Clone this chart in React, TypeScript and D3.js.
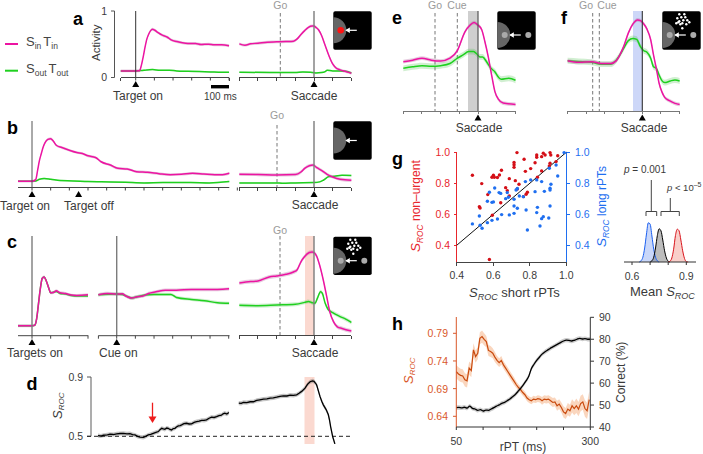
import React from "react";
import * as d3 from "d3";

type P = [number, number];
const PINK = "#ec14a2", GREEN = "#1fd01f", PINKBAND = "rgba(176,96,156,0.32)", GREENBAND = "rgba(70,190,70,0.25)";
const INK = "#3a3a3a", FONT = "'Liberation Sans', Arial, sans-serif";
const RED = "#e8262c", BLUE = "#1f6ff0", ORANGE = "#d9582a";

// a
const aLeftPink: P[] = [[-80,.10],[-40,.10],[0,.10],[20,.102],[30,.18],[40,.31],[50,.46],[60,.585],[70,.66],[80,.71],[90,.73],[100,.72],[120,.68],[140,.645],[170,.61],[190,.57],[220,.545],[250,.525],[280,.515],[320,.515],[350,.50],[390,.505],[420,.495],[460,.495],[500,.48]];
const aLeftGreen: P[] = [[-80,.10],[0,.10],[30,.105],[60,.115],[90,.12],[130,.11],[180,.11],[220,.10],[280,.095],[340,.09],[400,.085],[460,.08],[500,.08]];
const aRightPink: P[] = [[-400,.51],[-370,.49],[-340,.51],[-300,.52],[-250,.535],[-200,.54],[-150,.545],[-110,.55],[-90,.585],[-70,.65],[-50,.71],[-30,.76],[-10,.78],[0,.78],[10,.76],[25,.72],[40,.64],[60,.485],[80,.33],[100,.205],[120,.14],[140,.115],[170,.09],[200,.065]];
const aRightGreen: P[] = [[-400,.08],[-200,.075],[-100,.075],[-60,.085],[-20,.08],[10,.07],[40,.075],[60,.09],[70,.11],[100,.10],[140,.10],[170,.095],[200,.07]];
// b
const bLeftPink: P[] = [[-75,.095],[0,.095],[20,.12],[30,.26],[40,.41],[50,.515],[60,.615],[70,.68],[85,.73],[100,.74],[115,.70],[130,.64],[160,.605],[200,.565],[240,.53],[270,.515],[300,.48],[340,.455],[370,.39],[420,.34],[460,.29],[510,.28],[560,.24],[620,.23],[680,.21],[740,.195],[800,.20],[860,.215],[920,.205],[980,.195],[1020,.195],[1057,.215]];
const bLeftGreen: P[] = [[-75,.095],[0,.095],[20,.10],[40,.125],[65,.135],[100,.125],[150,.105],[220,.10],[300,.09],[420,.085],[500,.08],[600,.07],[700,.075],[850,.075],[950,.07],[1057,.09]];
const bRightPink: P[] = [[-400,.20],[-300,.197],[-200,.19],[-100,.197],[-70,.235],[-50,.29],[-25,.33],[-5,.34],[15,.30],[40,.26],[70,.20],[100,.16],[140,.125],[200,.11]];
const bRightGreen: P[] = [[-400,.07],[-200,.07],[-170,.065],[-100,.07],[0,.075],[30,.085],[50,.11],[80,.165],[110,.17],[150,.185],[200,.18]];
// c
const cLeftPink: P[] = [[-75,.15],[0,.15],[15,.16],[25,.26],[35,.49],[45,.72],[55,.87],[65,.89],[75,.84],[90,.72],[100,.65],[115,.655],[130,.68],[150,.65],[180,.64],[210,.615],[240,.61],[300,.62]];
const cLeftGreen: P[] = [[-75,.15],[0,.15],[15,.16],[25,.26],[35,.49],[45,.72],[55,.87],[65,.89],[75,.84],[90,.72],[100,.65],[130,.67],[150,.64],[180,.63],[210,.61],[240,.60],[300,.60]];
const cMidPink: P[] = [[-98,.62],[-50,.64],[0,.63],[30,.635],[50,.60],[80,.57],[110,.59],[140,.60],[170,.64],[210,.665],[260,.69],[320,.69],[400,.70],[470,.70],[540,.70],[602,.71]];
const cMidGreen: P[] = [[-98,.62],[0,.63],[30,.625],[60,.59],[80,.57],[110,.59],[150,.615],[200,.625],[290,.625],[320,.58],[400,.55],[470,.53],[540,.50],[602,.49]];
const cRightPink: P[] = [[-400,.80],[-340,.82],[-300,.83],[-240,.89],[-200,.905],[-150,.93],[-110,.965],[-90,1.0],[-70,1.12],[-50,1.2],[-25,1.26],[-10,1.27],[0,1.26],[15,1.2],[30,1.07],[50,.84],[70,.565],[85,.36],[105,.21],[125,.135],[150,.11],[200,.07]];
const cRightGreen: P[] = [[-400,.46],[-300,.455],[-200,.465],[-100,.475],[-50,.505],[-30,.52],[-10,.50],[5,.49],[20,.58],[35,.667],[45,.64],[60,.49],[75,.40],[100,.35],[140,.29],[170,.25],[200,.20]];
// d
const dLeft: P[] = [[-100,.505],[-85,.502],[-71,.507],[-50,.510],[-36,.514],[-18,.512],[0,.516],[18,.519],[36,.520],[55,.516],[71,.518],[85,.512],[98,.509],[112,.500],[125,.495],[143,.493],[155,.500],[169,.509],[182,.513],[196,.520],[210,.527],[223,.532],[232,.545],[241,.554],[250,.550],[258,.547],[268,.556],[276,.554],[285,.546],[294,.543],[303,.552],[312,.554],[320,.563],[330,.570],[340,.572],[348,.577],[360,.585],[374,.588],[388,.583],[401,.584],[415,.594],[428,.599],[442,.602],[455,.608],[468,.607],[481,.611],[495,.622],[508,.629],[522,.627],[535,.633],[548,.640],[561,.642],[570,.652],[579,.656],[590,.650],[601,.660]];
const dRight: P[] = [[-403,.724],[-390,.722],[-378,.729],[-360,.727],[-342,.733],[-325,.733],[-307,.742],[-290,.746],[-271,.751],[-252,.752],[-235,.758],[-218,.759],[-200,.764],[-182,.770],[-164,.773],[-145,.772],[-128,.778],[-110,.776],[-93,.78],[-80,.790],[-66,.803],[-48,.825],[-35,.850],[-21,.868],[-8,.874],[0,.871],[14,.848],[32,.769],[42,.735],[50,.712],[65,.680],[77,.645],[83,.610],[89,.566],[100,.498],[112,.449]];
// e, f
const ePink: P[] = [[-400,.747],[-350,.77],[-300,.80],[-250,.77],[-200,.757],[-150,.80],[-110,.92],[-70,1.2],[-43,1.30],[-21,1.34],[0,1.30],[20,1.23],[37,1.05],[55,.82],[73,.545],[91,.29],[109,.18],[135,.12],[201,.10]];
const eGreen: P[] = [[-400,.646],[-350,.67],[-300,.687],[-250,.677],[-200,.687],[-150,.72],[-110,.80],[-80,.85],[-50,.90],[-25,.90],[-10,.875],[10,.82],[25,.82],[45,.75],[70,.646],[90,.595],[110,.51],[125,.48],[165,.495],[201,.465]];
const fPink: P[] = [[-400,.76],[-340,.737],[-270,.747],[-220,.72],[-170,.72],[-140,.76],[-120,.85],[-100,.975],[-75,1.18],[-50,1.32],[-25,1.38],[-10,1.37],[5,1.33],[25,1.24],[45,1.08],[60,.85],[75,.646],[90,.42],[105,.29],[120,.207],[145,.157],[175,.116],[200,.10]];
const fGreen: P[] = [[-400,.76],[-340,.75],[-270,.737],[-220,.71],[-170,.71],[-140,.77],[-120,.85],[-100,.95],[-75,1.066],[-50,1.10],[-30,1.086],[-10,.975],[5,.92],[25,.89],[45,.80],[60,.67],[75,.646],[90,.545],[105,.46],[120,.43],[150,.455],[175,.47],[200,.455]];
// g
const gRed: P[] = [[.486,.852],[.537,.798],[.570,.727],[.524,.649],[.528,.641],[.595,.594],[.579,.308],[.593,.839],[.601,.852],[.606,.839],[.623,.837],[.634,.854],[.645,.884],[.668,.772],[.677,.753],[.688,.830],[.688,.718],[.641,.675],[.714,.935],[.714,.920],[.714,.903],[.721,.817],[.730,.998],[.741,.794],[.732,.763],[.769,.955],[.776,.877],[.805,.895],[.787,.742],[.780,.729],[.829,.933],[.838,.983],[.838,.968],[.842,.839],[.865,.972],[.865,.880],[.874,.994],[.884,.983],[.911,.998],[.915,.983],[.907,.912],[.911,.929],[.944,.940],[.953,.978],[.765,.714]];
const gBlue: P[] = [[.486,.538],[.524,.589],[.528,.529],[.539,.510],[.568,.546],[.568,.684],[.579,.742],[.593,.677],[.601,.680],[.593,.561],[.608,.770],[.623,.570],[.632,.740],[.641,.735],[.646,.598],[.668,.701],[.677,.740],[.683,.710],[.688,.596],[.714,.606],[.714,.697],[.714,.654],[.732,.639],[.732,.766],[.725,.757],[.743,.718],[.765,.714],[.776,.811],[.780,.628],[.787,.499],[.805,.822],[.829,.746],[.838,.822],[.842,.645],[.838,.611],[.856,.525],[.865,.572],[.874,.585],[.865,.811],[.880,.748],[.904,.576],[.911,.654],[.911,.757],[.911,.768],[.916,.794],[.907,.897],[.944,.918],[.953,.847],[.988,.998]];
const gTicks = [0.4, 0.6, 0.8, 1.0];
const histBlue: P[] = [[.64,0],[.65,.03],[.66,.12],[.67,.35],[.68,.70],[.69,.98],[.70,.95],[.71,.65],[.72,.32],[.73,.12],[.74,.03],[.75,0]];
const histBlack: P[] = [[.70,0],[.71,.03],[.72,.12],[.73,.35],[.74,.66],[.75,.83],[.76,.78],[.77,.55],[.78,.28],[.79,.10],[.80,.02],[.81,0]];
const histRed: P[] = [[.80,0],[.81,.02],[.82,.10],[.83,.32],[.84,.66],[.85,.82],[.86,.78],[.87,.55],[.88,.28],[.89,.09],[.90,.01],[.91,0]];
const histTicks = [0.6, 0.7, 0.8, 0.9];
// h
const hRpt = d3.range(50, 302, 4);
const hRoc = [.7207,.7165,.714,.713,.706,.704,.727,.7225,.760,.748,.754,.781,.784,.779,.775,.759,.757,.754,.747,.741,.737,.741,.733,.727,.721,.715,.709,.703,.697,.692,.688,.683,.679,.673,.670,.668,.671,.670,.672,.671,.668,.671,.670,.671,.668,.665,.666,.659,.662,.656,.648,.645,.653,.650,.659,.654,.659,.653,.663,.666,.654,.650,.670];
const hRocErr = [.012,.012,.012,.012,.012,.012,.012,.012,.012,.011,.011,.011,.011,.011,.010,.010,.010,.009,.009,.008,.008,.008,.007,.007,.007,.007,.007,.007,.006,.006,.006,.006,.006,.006,.006,.006,.006,.006,.006,.006,.007,.007,.007,.007,.008,.008,.008,.009,.009,.009,.010,.010,.011,.011,.012,.012,.013,.013,.014,.014,.015,.015,.015];
const hCorrect: P[] = [[50,48.8],[55,48.9],[60,48.7],[65,49],[70,48.6],[75,49.5],[80,48.5],[85,48.2],[90,47.6],[95,47.9],[100,47.3],[105,47.7],[110,47.6],[115,48.2],[120,48.8],[125,49.5],[130,50.1],[135,50.8],[140,51.2],[145,52],[150,52.8],[155,53.8],[160,54.8],[165,56.2],[170,57.6],[175,59.2],[180,61],[185,63],[190,66.6],[195,68.6],[200,70.4],[205,71.8],[210,73.2],[215,74.2],[220,75],[225,75.8],[230,76.5],[235,77.2],[240,77.9],[245,78.6],[250,79.2],[255,79.6],[260,79.5],[265,79.2],[270,79.5],[275,80],[280,80.4],[285,80.1],[290,80.3],[295,80],[300,80]];
const hRocTicks = [0.79, 0.74, 0.69, 0.64];
const hCorrectTicks = [40, 50, 60, 70, 80, 90];
const hRptTicks = [50, 100, 150, 200, 250, 300];
const hRptLabels = [50, 300];

const PX_MS = 0.18667;
const yActivity = (base: number) => d3.scaleLinear().domain([0, 1]).range([base, base - 66]);
const xTime = (zeroPx: number) => d3.scaleLinear().domain([0, 100]).range([zeroPx, zeroPx + 100 * PX_MS]);
const linePath = (pts: P[], x: any, y: any) => d3.line<P>().x(d => x(d[0])).y(d => y(d[1])).curve(d3.curveMonotoneX)(pts) || "";
const bandPath = (pts: P[], err: number, x: any, y: any) => d3.area<P>().x(d => x(d[0])).y0(d => y(d[1] - err)).y1(d => y(d[1] + err)).curve(d3.curveMonotoneX)(pts) || "";

const T = ({ x, y, s = 12, fill = INK, anchor = "start", children, rot, italic, bold }: any) => (
  <text x={x} y={y} fontSize={s} fill={fill} textAnchor={anchor} fontFamily={FONT} fontStyle={italic ? "italic" : "normal"} fontWeight={bold ? 700 : 400}
    transform={rot ? `rotate(${rot} ${x} ${y})` : undefined}>{children}</text>
);
const Letter = ({ x, y, c }: any) => <T x={x} y={y} s={18} fill="#000" bold>{c}</T>;

const Trace = ({ pts, x, y, color, band, err }: any) => (
  <g>
    <path d={bandPath(pts, err, x, y)} fill={band} />
    <path d={linePath(pts, x, y)} fill="none" stroke={color} strokeWidth={1.5} strokeLinejoin="round" />
  </g>
);
const TimeAxis = ({ x, y, from, to, step = 100, stroke = "#444", grey }: any) => {
  const ticks: number[] = [];
  for (let t = from; t <= to + 1; t += step) ticks.push(t);
  return (
    <g stroke={grey ? "#777" : stroke} strokeWidth={1} shapeRendering="crispEdges">
      <line x1={x(from)} x2={x(to)} y1={y} y2={y} />
      {ticks.map(t => <line key={t} x1={x(t)} x2={x(t)} y1={y} y2={y + 3} />)}
    </g>
  );
};
const Tri = ({ x, y }: any) => <path d={`M${x - 3.5},${y + 6} L${x + 3.5},${y + 6} L${x},${y} Z`} fill="#000" />;
const VLine = ({ x, y1, y2, c = "#7c7c7c", w = 1.4 }: any) => <line x1={x} x2={x} y1={y1} y2={y2} stroke={c} strokeWidth={w} />;
const Dash = ({ x, y1, y2 }: any) => <line x1={x} x2={x} y1={y1} y2={y2} stroke="#777" strokeWidth={1} strokeDasharray="3.5 2.5" />;
const Grey = ({ x, y, children }: any) => <T x={x} y={y} s={10.5} fill="#9a9a9a" anchor="middle">{children}</T>;

const starOffsets: [number, number][] = [[17,3],[22,3],[19,6],[25,9],[14,12],[17,10],[21,9],[18,13],[24,13],[16,11],[20,17],[23,6],[27,11],[20,12],[15,7]];
const Inset = ({ x, y, cy, dot, targets, stars, clip }: any) => (
  <g>
    <clipPath id={clip}><rect x={x} y={y} width={38.4} height={38.4} rx={1.8} /></clipPath>
    <rect x={x} y={y} width={38.4} height={38.4} rx={1.8} fill="#000" />
    <circle cx={x} cy={cy} r={13} fill="#666" clipPath={`url(#${clip})`} />
    {targets && <circle cx={x + 7.4} cy={cy} r={3} fill="#aaa" />}
    {targets && <circle cx={x + 31} cy={cy} r={3} fill="#aaa" />}
    {dot && <circle cx={x + 7.4} cy={cy} r={3.3} fill="#ff1414" />}
    {stars && starOffsets.map((o, i) => <circle key={i} cx={x + o[0]} cy={y + o[1]} r={1.2} fill="#fff" />)}
    <line x1={x + 23.5} x2={x + 13} y1={cy} y2={cy} stroke="#fff" strokeWidth={1.2} />
    <path d={`M${x + 12},${cy} L${x + 16.5},${cy - 2.8} L${x + 16.5},${cy + 2.8} Z`} fill="#fff" />
  </g>
);
const Sroc = ({ x, y, fill, s = 13 }: any) => (
  <text transform={`rotate(-90 ${x} ${y})`} x={x} y={y} fill={fill} fontFamily={FONT} fontSize={s} fontStyle="italic">S<tspan fontSize={s * 0.62} dy={2.5}>ROC</tspan></text>
);
const SubLabel = ({ x, y, a, b, fill }: any) => (
  <text x={x} y={y} fill={fill} fontFamily={FONT} fontSize={13}>S<tspan fontSize={8.5} dy={3}>{a}</tspan><tspan dx={2} dy={-3}>T</tspan><tspan fontSize={8.5} dy={3}>{b}</tspan></text>
);

export default function App() {
  const xL = xTime(135.7), xR = xTime(314), xB = xTime(32), xCm = xTime(116.7);
  const ya = yActivity(77.5), yb = yActivity(187.5), yc = yActivity(335.7), ye = yActivity(111);
  const xE = xTime(478), xF = xTime(642.3);

  const yd = d3.scaleLinear().domain([0.5, 0.9]).range([436.3, 377]);
  const clipD = "dclip";

  const xG = d3.scaleLinear().domain([0.4, 1]).range([456.7, 566.3]);
  const yG = d3.scaleLinear().domain([0.4, 1]).range([245.3, 152.3]);

  const xH = d3.scaleLinear().domain([0.6, 0.9]).range([632, 686.3]);
  const yH = d3.scaleLinear().domain([0, 1]).range([262, 222]);
  const histLine = d3.line<P>().x(d => xH(d[0])).y(d => yH(d[1])).curve(d3.curveMonotoneX);
  const histArea = d3.area<P>().x(d => xH(d[0])).y0(yH(0)).y1(d => yH(d[1])).curve(d3.curveMonotoneX);

  const xR2 = d3.scaleLinear().domain([50, 300]).range([456.3, 590.3]);
  const yRoc = d3.scaleLinear().domain([0.64, 0.79]).range([416.3, 333.3]);
  const yCor = d3.scaleLinear().domain([40, 90]).range([427, 317.3]);
  const rocPts: P[] = hRpt.map((r, i) => [r, hRoc[i]]);
  const rocBand = d3.area<number>().x((_, i) => xR2(hRpt[i])).y0((d, i) => yRoc(d - hRocErr[i])).y1((d, i) => yRoc(d + hRocErr[i]));
  const rocLine = d3.line<P>().x(d => xR2(d[0])).y(d => yRoc(d[1]));
  const corLine = d3.line<P>().x(d => xR2(d[0])).y(d => yCor(d[1])).curve(d3.curveMonotoneX);
  const corBand = d3.area<P>().x(d => xR2(d[0])).y0(d => yCor(d[1] - 1)).y1(d => yCor(d[1] + 1)).curve(d3.curveMonotoneX);

  return (
    <svg width={703} height={454} viewBox="0 0 703 454" style={{ position: "absolute", left: 0, top: 0, display: "block", background: "#fff" }}>
      {/* legend */}
      <line x1={5} x2={18} y1={44} y2={44} stroke={PINK} strokeWidth={2} />
      <SubLabel x={26} y={46} a="in" b="in" fill="#444" />
      <line x1={5} x2={18} y1={70.7} y2={70.7} stroke={GREEN} strokeWidth={2} />
      <SubLabel x={26} y={73} a="out" b="out" fill="#444" />

      {/* a */}
      <Letter x={73} y={25} c="a" />
      <line x1={114.5} x2={114.5} y1={11} y2={77.5} stroke="#555" />
      <line x1={111} x2={114.5} y1={11} y2={11} stroke="#555" />
      <line x1={111} x2={114.5} y1={77.5} y2={77.5} stroke="#555" />
      <T x={107} y={15} s={10.5} anchor="end">1</T>
      <T x={107} y={81} s={10.5} anchor="end">0</T>
      <T x={100} y={61} s={11.5} rot={-90}>Activity</T>
      <Trace pts={aLeftGreen} x={xL} y={ya} color={GREEN} band={GREENBAND} err={0.012} />
      <Trace pts={aLeftPink} x={xL} y={ya} color={PINK} band={PINKBAND} err={0.022} />
      <VLine x={135.7} y1={11} y2={77.5} c="#333" w={1} />
      <TimeAxis x={xL} y={77.5} from={-80} to={500} step={580} />
      {[0, 100, 200, 300, 400, 500].map(t => <line key={t} x1={xL(t)} x2={xL(t)} y1={77.5} y2={80.5} stroke="#444" />)}
      <Tri x={135.7} y={81} />
      <T x={113} y={100} s={12}>Target on</T>
      <rect x={211} y={85} width={18} height={3.4} fill="#000" />
      <T x={204} y={100} s={10}>100 ms</T>

      <Dash x={280.3} y1={13} y2={77.5} />
      <Grey x={280.3} y={9}>Go</Grey>
      <Trace pts={aRightGreen} x={xR} y={ya} color={GREEN} band={GREENBAND} err={0.012} />
      <Trace pts={aRightPink} x={xR} y={ya} color={PINK} band={PINKBAND} err={0.022} />
      <VLine x={314} y1={11} y2={77.5} />
      <TimeAxis x={xR} y={77.5} from={-400} to={200} />
      <Tri x={314} y={81} />
      <T x={314} y={100} anchor="middle">Saccade</T>
      <Inset x={333.3} y={11.3} cy={30.3} dot clip="ia" />

      {/* b */}
      <Letter x={7} y={134} c="b" />
      <Trace pts={bLeftGreen} x={xB} y={yb} color={GREEN} band={GREENBAND} err={0.012} />
      <Trace pts={bLeftPink} x={xB} y={yb} color={PINK} band={PINKBAND} err={0.02} />
      <VLine x={32} y1={121} y2={187.5} c="#555" w={1} />
      <line x1={18} x2={229.3} y1={187.5} y2={187.5} stroke="#444" />
      {d3.range(0, 1101, 100).map(t => <line key={t} x1={xB(t)} x2={xB(t)} y1={187.5} y2={190.5} stroke="#444" />)}
      <Tri x={32} y={191} /><Tri x={78.6} y={191} />
      <T x={0} y={210} s={12}>Target on</T>
      <T x={64} y={210} s={12}>Target off</T>
      <Dash x={277} y1={125} y2={187.5} />
      <Grey x={277} y={119}>Go</Grey>
      <Trace pts={bRightGreen} x={xR} y={yb} color={GREEN} band={GREENBAND} err={0.012} />
      <Trace pts={bRightPink} x={xR} y={yb} color={PINK} band={PINKBAND} err={0.025} />
      <VLine x={314} y1={121} y2={187.5} />
      <TimeAxis x={xR} y={187.5} from={-400} to={200} />
      <Tri x={314} y={191} />
      <T x={315} y={209} anchor="middle">Saccade</T>
      <Inset x={333.3} y={121.3} cy={140.5} clip="ib" />

      {/* c */}
      <Letter x={7} y={248} c="c" />
      <rect x={305} y={236} width={9} height={99.7} fill="#fbd9d0" />
      <Trace pts={cLeftGreen} x={xB} y={yc} color={GREEN} band={GREENBAND} err={0.02} />
      <Trace pts={cLeftPink} x={xB} y={yc} color={PINK} band={PINKBAND} err={0.022} />
      <VLine x={32} y1={236} y2={335.7} />
      <line x1={18} x2={88.3} y1={335.7} y2={335.7} stroke="#444" />
      {[0, 100, 200, 300].map(t => <line key={t} x1={xB(t)} x2={xB(t)} y1={335.7} y2={338.7} stroke="#444" />)}
      <Tri x={32} y={339} />
      <T x={7} y={357} s={12}>Targets on</T>
      <Trace pts={cMidGreen} x={xCm} y={yc} color={GREEN} band={GREENBAND} err={0.025} />
      <Trace pts={cMidPink} x={xCm} y={yc} color={PINK} band={PINKBAND} err={0.025} />
      <VLine x={116.7} y1={236} y2={335.7} />
      <line x1={98.3} x2={229.5} y1={335.7} y2={335.7} stroke="#444" />
      {[-98, 0, 100, 200, 300, 400, 500, 600].map(t => <line key={t} x1={xCm(t)} x2={xCm(t)} y1={335.7} y2={338.7} stroke="#444" />)}
      <Tri x={116.7} y={339} />
      <T x={99} y={357} s={12}>Cue on</T>
      <Dash x={280} y1={236} y2={335.7} />
      <Grey x={280} y={234}>Go</Grey>
      <Trace pts={cRightGreen} x={xR} y={yc} color={GREEN} band={GREENBAND} err={0.03} />
      <Trace pts={cRightPink} x={xR} y={yc} color={PINK} band={PINKBAND} err={0.03} />
      <VLine x={314} y1={236} y2={335.7} />
      <TimeAxis x={xR} y={335.7} from={-400} to={200} />
      <Tri x={314} y={339} />
      <T x={315} y={357} anchor="middle">Saccade</T>
      <Inset x={333.3} y={236.7} cy={260.7} targets stars clip="ic" />

      {/* d */}
      <Letter x={26.5} y={390} c="d" />
      <rect x={304.5} y={377} width={10} height={67} fill="#fbd9d0" />
      <line x1={91} x2={91} y1={377} y2={436.3} stroke="#8a8a8a" strokeWidth={1.4} />
      <line x1={87} x2={91} y1={377} y2={377} stroke="#555" />
      <line x1={87} x2={91} y1={436.3} y2={436.3} stroke="#555" />
      <line x1={87} x2={350} y1={436.3} y2={436.3} stroke="#222" strokeWidth={1} strokeDasharray="4 3" />
      <T x={83} y={381} s={10.5} anchor="end">0.9</T>
      <T x={83} y={440} s={10.5} anchor="end">0.5</T>
      <Sroc x={61.5} y={419} fill={INK} s={13} />
      <clipPath id={clipD}><rect x={90} y={370} width={262} height={74} /></clipPath>
      <g clipPath={`url(#${clipD})`}>
        {[{ p: dLeft, x: xCm }, { p: dRight, x: xR }].map((o, i) => (
          <g key={i}>
            <path d={d3.area<P>().x(d => o.x(d[0])).y0(d => yd(d[1] - 0.014)).y1(d => yd(d[1] + 0.014))(o.p) || ""} fill="rgba(90,90,90,0.35)" />
            <path d={d3.line<P>().x(d => o.x(d[0])).y(d => yd(d[1]))(o.p) || ""} fill="none" stroke="#000" strokeWidth={1.3} />
          </g>
        ))}
      </g>
      <line x1={152.5} x2={152.5} y1={402.7} y2={418} stroke="#ee1c1c" strokeWidth={1.3} />
      <path d="M148.5,416.5 L156.5,416.5 L152.5,423 Z" fill="#ee1c1c" />

      {/* e */}
      <Letter x={392} y={24} c="e" />
      <rect x={468} y={11} width={10} height={100} fill="#cfcfcf" />
      <Dash x={435} y1={13} y2={111} />
      <Dash x={457.3} y1={13} y2={111} />
      <Grey x={435} y={9}>Go</Grey>
      <Grey x={457} y={9}>Cue</Grey>
      <Trace pts={eGreen} x={xE} y={ye} color={GREEN} band={GREENBAND} err={0.045} />
      <Trace pts={ePink} x={xE} y={ye} color={PINK} band={PINKBAND} err={0.028} />
      <VLine x={478} y1={11} y2={111} c="#555" w={1.2} />
      <TimeAxis x={xE} y={111} from={-400} to={200} grey />
      <Tri x={478} y={114.5} />
      <T x={479} y={132} anchor="middle">Saccade</T>
      <Inset x={497.3} y={11.3} cy={35} targets clip="ie" />

      {/* f */}
      <Letter x={561} y={24} c="f" />
      <rect x={633} y={11} width={9.3} height={100} fill="#cdd7f8" />
      <Dash x={592.7} y1={13} y2={111} />
      <Dash x={599.3} y1={13} y2={111} />
      <Grey x={586} y={9}>Go</Grey>
      <Grey x={607} y={9}>Cue</Grey>
      <Trace pts={fGreen} x={xF} y={ye} color={GREEN} band={GREENBAND} err={0.045} />
      <Trace pts={fPink} x={xF} y={ye} color={PINK} band={PINKBAND} err={0.028} />
      <VLine x={642.3} y1={11} y2={111} c="#333" w={1.1} />
      <TimeAxis x={xF} y={111} from={-400} to={200} grey />
      <Tri x={642.3} y={114.5} />
      <T x={644} y={132} anchor="middle">Saccade</T>
      <Inset x={662.3} y={11.3} cy={35} targets stars clip="if" />

      {/* g */}
      <Letter x={392} y={165} c="g" />
      <g shapeRendering="crispEdges">
        <line x1={456.7} x2={456.7} y1={152.3} y2={262.3} stroke={RED} />
        <line x1={566.3} x2={566.3} y1={152.3} y2={262.3} stroke={BLUE} />
        <line x1={456.7} x2={566.3} y1={262.3} y2={262.3} stroke="#444" />
        {gTicks.map(t => <g key={t}>
          <line x1={453.5} x2={456.7} y1={yG(t)} y2={yG(t)} stroke={RED} />
          <line x1={566.3} x2={569.5} y1={yG(t)} y2={yG(t)} stroke={BLUE} />
          <line x1={xG(t)} x2={xG(t)} y1={262.3} y2={265.5} stroke="#444" />
        </g>)}
      </g>
      {gTicks.map(t => <g key={t}>
        <T x={450} y={yG(t) + 4} s={10.5} fill={RED} anchor="end">{t.toFixed(1)}</T>
        <T x={575} y={yG(t) + 4} s={10.5} fill={BLUE}>{t.toFixed(1)}</T>
        <T x={xG(t)} y={279} s={10.5} anchor="middle">{t.toFixed(1)}</T>
      </g>)}
      <line x1={xG(0.4)} y1={yG(0.4)} x2={xG(1)} y2={yG(1)} stroke="#111" strokeWidth={1} />
      {gRed.map((d, i) => <circle key={i} cx={xG(d[0])} cy={yG(d[1])} r={1.7} fill="#d40f17" />)}
      {gBlue.map((d, i) => <circle key={i} cx={xG(d[0])} cy={yG(d[1])} r={1.7} fill={BLUE} />)}
      <Sroc x={420} y={252} fill={RED} s={13.5} />
      <T x={420} y={221} s={12} fill={RED} rot={-90}>non–urgent</T>
      <Sroc x={606} y={247} fill={BLUE} s={13.5} />
      <T x={606} y={216} s={12} fill={BLUE} rot={-90}>long rPTs</T>
      <text x={469} y={297} fill={INK} fontFamily={FONT} fontSize={13}><tspan fontStyle="italic">S<tspan fontSize={9} dy={2.5}>ROC</tspan></tspan><tspan dy={-2.5}> short rPTs</tspan></text>

      {/* histograms */}
      <path d={histArea(histBlue) || ""} fill="rgba(120,155,240,0.4)" />
      <path d={histArea(histBlack) || ""} fill="rgba(90,90,90,0.4)" />
      <path d={histArea(histRed) || ""} fill="rgba(240,130,115,0.38)" />
      <path d={histLine(histBlue) || ""} fill="none" stroke="#1a5ff0" strokeWidth={1} />
      <path d={histLine(histBlack) || ""} fill="none" stroke="#000" strokeWidth={1} />
      <path d={histLine(histRed) || ""} fill="none" stroke="#d9141c" strokeWidth={1} />
      <line x1={624} x2={696} y1={262} y2={262} stroke="#333" />
      {histTicks.map(t => <line key={t} x1={xH(t)} x2={xH(t)} y1={262} y2={265} stroke="#333" />)}
      <T x={632} y={280} s={10.5} anchor="middle">0.6</T>
      <T x={686.3} y={280} s={10.5} anchor="middle">0.9</T>
      <text x={630} y={296} fontFamily={FONT} fill={INK} fontSize={13}>Mean <tspan fontStyle="italic">S<tspan fontSize={9} dy={2.5}>ROC</tspan></tspan></text>
      <path d="M646,216 V211.5 H656.7 V216 M661,216 V211.5 H679.3 V216" fill="none" stroke="#444" />
      <line x1={651.3} x2={651.3} y1={180} y2={211.5} stroke="#444" />
      <line x1={670.3} x2={670.3} y1={198} y2={211.5} stroke="#444" />
      <text x={624} y={173} fontFamily={FONT} fontSize={10} fill={INK}><tspan fontStyle="italic">p</tspan> = 0.001</text>
      <text x={667} y={191} fontFamily={FONT} fontSize={9.5} fill={INK}><tspan fontStyle="italic">p</tspan> &lt; 10<tspan fontSize={7} dy={-4}>–5</tspan></text>

      {/* h */}
      <Letter x={392} y={330} c="h" />
      <path d={rocBand(hRoc) || ""} fill="rgba(245,165,110,0.45)" />
      <path d={rocLine(rocPts) || ""} fill="none" stroke="#c94a0e" strokeWidth={1.2} />
      <path d={corBand(hCorrect) || ""} fill="rgba(90,90,90,0.3)" />
      <path d={corLine(hCorrect) || ""} fill="none" stroke="#000" strokeWidth={1.3} />
      <line x1={456.3} x2={456.3} y1={317} y2={427} stroke={ORANGE} />
      <line x1={456.3} x2={590.3} y1={427} y2={427} stroke="#333" />
      <line x1={590.3} x2={590.3} y1={317.3} y2={427} stroke="#333" />
      {hRocTicks.map(t => <g key={t}>
        <line x1={453} x2={456.3} y1={yRoc(t)} y2={yRoc(t)} stroke={ORANGE} />
        <T x={448} y={yRoc(t) + 4} s={10.5} fill={ORANGE} anchor="end">{t.toFixed(2)}</T>
      </g>)}
      {hCorrectTicks.map(t => <g key={t}>
        <line x1={590.3} x2={594} y1={yCor(t)} y2={yCor(t)} stroke="#333" />
        <T x={599} y={yCor(t) + 4} s={10.5}>{t}</T>
      </g>)}
      {hRptTicks.map(t => <line key={t} x1={xR2(t)} x2={xR2(t)} y1={427} y2={430} stroke="#333" />)}
      {hRptLabels.map(t => <T key={t} x={xR2(t)} y={445} s={10.5} anchor="middle">{t}</T>)}
      <T x={523} y={451} s={12} anchor="middle">rPT (ms)</T>
      <T x={625} y={403} s={12} rot={-90}>Correct (%)</T>
      <Sroc x={412.5} y={384} fill={ORANGE} s={13} />
    </svg>
  );
}
